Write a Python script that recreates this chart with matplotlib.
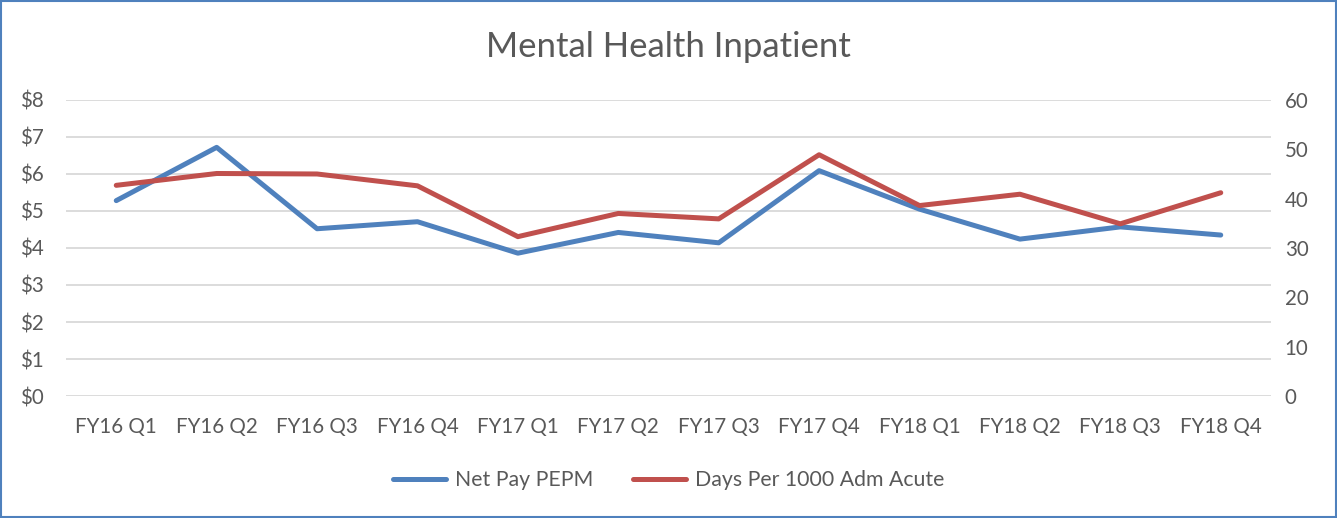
import matplotlib
matplotlib.use("Agg")
import matplotlib.pyplot as plt
from matplotlib.patches import Rectangle
from matplotlib.ticker import FuncFormatter, MultipleLocator

categories = ["FY16 Q1", "FY16 Q2", "FY16 Q3", "FY16 Q4", "FY17 Q1", "FY17 Q2",
              "FY17 Q3", "FY17 Q4", "FY18 Q1", "FY18 Q2", "FY18 Q3", "FY18 Q4"]
net_pay_pepm = [5.28, 6.72, 4.52, 4.71, 3.86, 4.42, 4.14, 6.09, 5.05, 4.24, 4.57, 4.35]
days_per_1000 = [42.7, 45.1, 45.0, 42.6, 32.3, 37.0, 35.9, 48.9, 38.6, 40.9, 34.9, 41.2]

plt.rcParams['font.family'] = ['Lato', 'DejaVu Sans']
text_color = "#595959"

fig = plt.figure(figsize=(13.37, 5.18), dpi=100)
ax = fig.add_axes([0.0494, 0.2355, 0.9012, 0.5715])
ax2 = ax.twinx()

x = list(range(len(categories)))
ax.plot(x, net_pay_pepm, color="#4F81BD", lw=3.6, solid_capstyle="round", zorder=3)
ax2.plot(x, days_per_1000, color="#C0504D", lw=3.6, solid_capstyle="round", zorder=3)

ax.set_xlim(-0.5, len(categories) - 0.5)
ax.set_ylim(0, 8)
ax2.set_ylim(0, 60)
ax.yaxis.set_major_locator(MultipleLocator(1))
ax2.yaxis.set_major_locator(MultipleLocator(10))
ax.yaxis.set_major_formatter(FuncFormatter(lambda v, p: f"${v:.0f}"))

ax.set_xticks(x)
ax.set_xticklabels(categories)
ax.grid(axis="y", color="#D9D9D9", lw=1.3)
ax.set_axisbelow(True)

for a in (ax, ax2):
    for s in a.spines.values():
        s.set_visible(False)
    a.tick_params(length=0, labelsize=14.8, colors=text_color)
ax.tick_params(axis="x", pad=15)
ax.tick_params(axis="y", pad=16)
ax2.tick_params(axis="y", pad=10)

fig.text(0.5, 0.91, "Mental Health Inpatient", ha="center", va="center",
         fontsize=25, color=text_color)

h1, = ax.plot([], [], color="#4F81BD", lw=3.6, solid_capstyle="round")
h2, = ax.plot([], [], color="#C0504D", lw=3.6, solid_capstyle="round")
leg = fig.legend([h1, h2], ["Net Pay PEPM", "Days Per 1000 Adm Acute"],
                 loc="center", bbox_to_anchor=(0.5, 0.073), ncol=2, frameon=False,
                 fontsize=15.3, handlelength=2.5, handletextpad=0.42, columnspacing=1.85)
for t in leg.get_texts():
    t.set_color(text_color)

fig.patches.append(Rectangle((0.0008, 0.001), 0.9984, 0.997, transform=fig.transFigure,
                             fill=False, edgecolor="#4F81BD", lw=1.5))

fig.savefig("out.png", dpi=100, facecolor="white")
